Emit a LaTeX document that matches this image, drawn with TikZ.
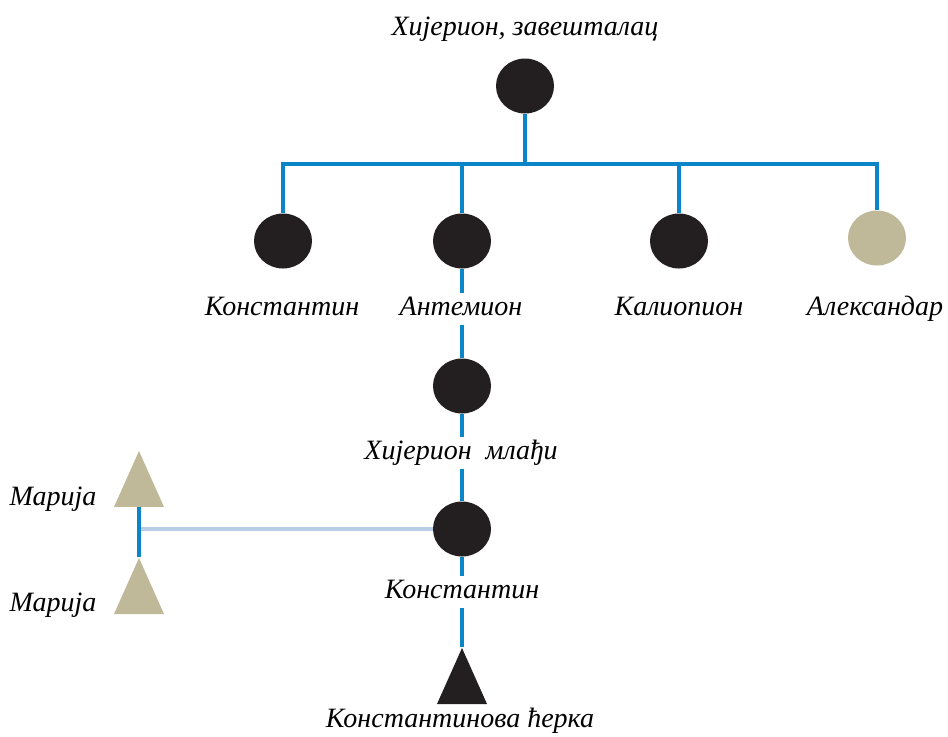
\documentclass[tikz,border=0pt]{standalone}
\usepackage{fontspec}
\setmainfont{Liberation Serif}[Language=Serbian]
\usetikzlibrary{shapes.geometric}
\definecolor{linkblue}{HTML}{0A86C8}
\definecolor{marrblue}{HTML}{B8CEE6}
\definecolor{person}{HTML}{231F20}
\definecolor{other}{HTML}{BFB99A}
\begin{document}
\begin{tikzpicture}[x=0.5pt,y=-0.5pt,
  man/.style={ellipse,fill=person,minimum width=29pt,minimum height=27.5pt,inner sep=0pt},
  woman/.style={isosceles triangle,isosceles triangle apex angle=48,isosceles triangle stretches,
    shape border rotate=90,minimum width=25pt,minimum height=28pt,inner sep=0pt,fill=person,anchor=apex},
  pname/.style={fill=white,inner sep=1.5pt,text height=9.5pt,text depth=3.5pt,font=\fontsize{14}{16}\selectfont\itshape},
  descent/.style={draw=linkblue,line width=2pt},
  wedlock/.style={draw=marrblue,line width=2pt}]
\useasboundingbox (0,0) rectangle (948,736);
\node[man] (hijerion) at (525,86) {};
\node[man] (konst) at (283,241) {};
\node[man] (antem) at (462,241) {};
\node[man] (kaliop) at (679,241) {};
\node[man,fill=other] (aleks) at (877,238) {};
\node[man] (mladji) at (462,386) {};
\node[man] (konst2) at (462,529) {};
\node[woman] (kcerka) at (462,647) {};
\node[woman,fill=other] (marija) at (139,450) {};
\node[woman,fill=other] (marija2) at (139,557) {};
\coordinate (bar) at (525,164);
\draw[descent] (hijerion) -- (bar);
\draw[descent] (konst) |- (bar) -| (aleks);
\draw[descent] (antem) -- (antem |- bar);
\draw[descent] (kaliop) -- (kaliop |- bar);
\draw[descent] (antem) -- (mladji);
\draw[descent] (mladji) -- (konst2);
\draw[descent] (konst2) -- (kcerka.apex);
\draw[wedlock] (konst2) -- (konst2 -| marija.lower side);
\draw[descent] (marija.lower side) -- (marija2.apex);
\node[pname] (lhijerion) at (525,29) {Хијерион, завешталац};
\node[pname] (lkonst) at (282,309) {Константин};
\node[pname] (lantem) at (461,309) {Антемион};
\node[pname] (lkaliop) at (679,309) {Калиопион};
\node[pname] (laleks) at (875,309) {Александар};
\node[pname] (lmladji) at (461,453) {Хијерион\ \ млађи};
\node[pname] (lkonst2) at (462,592) {Константин};
\node[pname] (lkcerka) at (460,721) {Константинова ћерка};
\node[pname] (lmarija) at (53,499) {Марија};
\node[pname] (lmarija2) at (53,605) {Марија};
\end{tikzpicture}
\end{document}
